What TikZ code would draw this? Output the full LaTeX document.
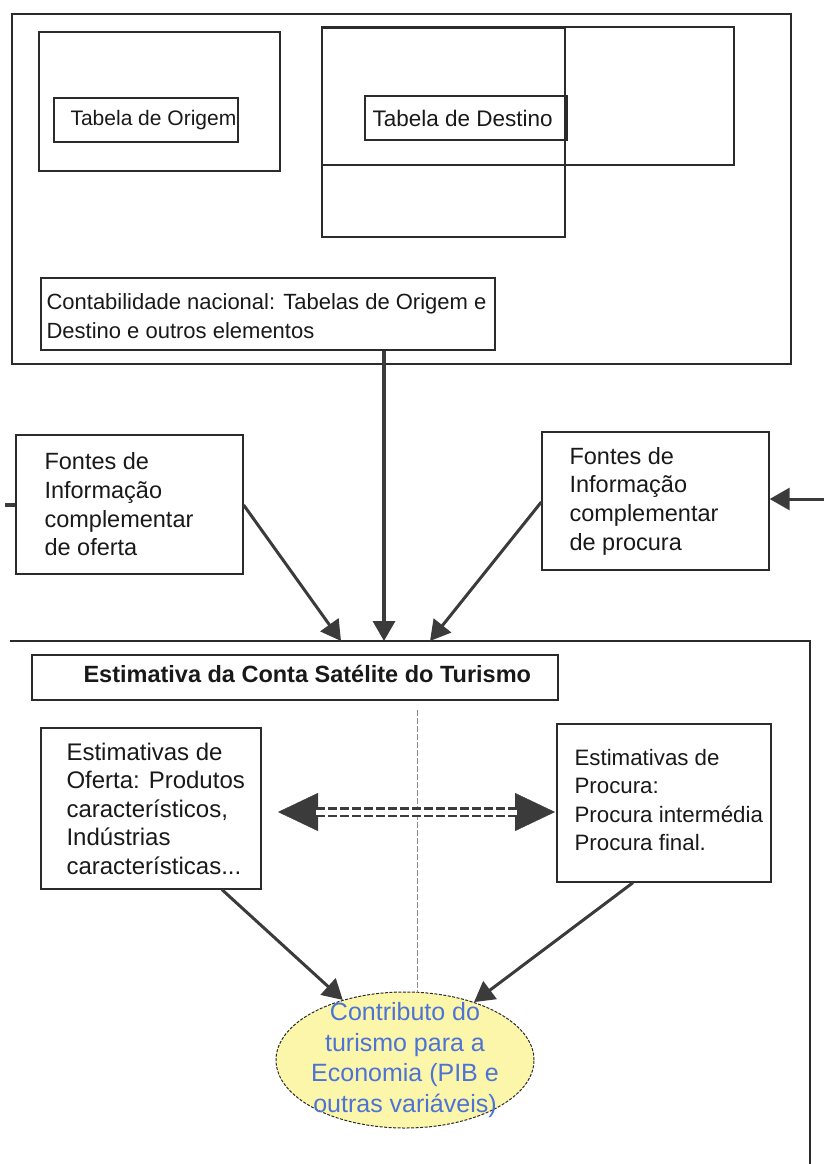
\documentclass[tikz,border=0pt]{standalone}
\usepackage{fontspec}
\setmainfont{Liberation Sans}
\usetikzlibrary{arrows.meta,shapes.geometric}
\definecolor{boxcol}{HTML}{2B2B2B}
\definecolor{arrcol}{HTML}{3B3B3B}
\definecolor{ellfill}{HTML}{FBF6AA}
\definecolor{elltext}{HTML}{4D73D6}
\definecolor{dashgrey}{HTML}{8C8C8C}
\newcommand{\szTab}{\fontsize{21}{28}\selectfont}
\newcommand{\szTabD}{\fontsize{22.5}{28}\selectfont}
\newcommand{\szCon}{\fontsize{22}{28.3}\selectfont}
\newcommand{\szFon}{\fontsize{23.5}{28.7}\selectfont}
\newcommand{\szTit}{\fontsize{23.5}{28}\selectfont\bfseries}
\newcommand{\szEsO}{\fontsize{24}{28.5}\selectfont}
\newcommand{\szEsP}{\fontsize{22.3}{28.3}\selectfont}
\newcommand{\szEll}{\fontsize{25}{30.5}\selectfont}
\begin{document}
\begin{tikzpicture}[x=1pt,y=-1pt,
  box/.style={draw=boxcol, line width=1.3pt, inner sep=0pt, rectangle},
  txt/.style={inner sep=0pt, align=left, anchor=west, text=black!90},
  arr/.style={draw=arrcol, line width=3pt, -{Triangle[length=20pt,width=22pt]}},
  frameline/.style={draw=boxcol, line width=1.3pt},
  markline/.style={draw=arrcol, line width=4pt},
  vdash/.style={draw=dashgrey, line width=0.8pt, dash pattern=on 6pt off 2pt},
  dbltips/.style={draw=white, line width=0.4pt,
     {Triangle[length=40pt,width=38pt,color=arrcol]}-{Triangle[length=40pt,width=38pt,color=arrcol]}},
  dblline/.style={draw=arrcol, line width=2.5pt, double=white, double distance=5pt, dash pattern=on 9pt off 3pt},
  ellstyle/.style={ellipse, draw=boxcol, line width=1pt, dash pattern=on 3pt off 1.5pt, fill=ellfill, inner sep=0pt}
]
\useasboundingbox (0,0) rectangle (824,1164);

% top frame
\node[box, minimum width=779pt, minimum height=350pt] (topframe) at (401.5,189) {};
\node[box, minimum width=241pt, minimum height=139pt] (origouter) at (159.5,101.5) {};
\node[box, minimum width=184pt, minimum height=44pt] (origin) at (146,120) {};
\node[txt, font=\szTab] (origin-t) at ([xshift=17pt]origin.west) {Tabela de Origem};
\node[box, minimum width=412pt, minimum height=138pt] (desta) at (528,96) {};
\node[box, minimum width=243pt, minimum height=209pt] (destb) at (443.5,132.5) {};
\node[box, minimum width=202pt, minimum height=44pt] (destino) at (466,118) {};
\node[txt, font=\szTabD] (destino-t) at ([xshift=8pt]destino.west) {Tabela de Destino};
\node[box, minimum width=454pt, minimum height=72pt] (contab) at (268,314) {};
\node[txt, font=\szCon] (contab-t) at ([xshift=6pt,yshift=-2pt]contab.west)
  {Contabilidade nacional: Tabelas de Origem e\\Destino e outros elementos};

% sources
\node[box, minimum width=227pt, minimum height=139pt] (fonteso) at (129.5,504.5) {};
\node[txt, font=\szFon] (fonteso-t) at ([xshift=29pt]fonteso.west)
  {Fontes de\\Informação\\complementar\\de oferta};
\node[box, minimum width=227pt, minimum height=138pt] (fontesp) at (655.5,501) {};
\node[txt, font=\szFon] (fontesp-t) at ([xshift=28pt]fontesp.west)
  {Fontes de\\Informação\\complementar\\de procura};

% lower frame
\coordinate (lf1) at (10,641);
\coordinate (lf2) at (810,641);
\coordinate (lf3) at (810,1164);
\draw[frameline] (lf1) -- (lf2) -- (lf3);

\node[box, minimum width=526pt, minimum height=45pt] (title) at (295,677.5) {};
\node[txt, font=\szTit] (title-t) at ([xshift=52pt,yshift=4pt]title.west)
  {Estimativa da Conta Satélite do Turismo};

\node[box, minimum width=220pt, minimum height=161pt] (esto) at (151,808.5) {};
\node[txt, font=\szEsO] (esto-t) at ([xshift=26pt]esto.west)
  {Estimativas de\\Oferta: Produtos\\característicos,\\Indústrias\\características...};
\node[box, minimum width=214pt, minimum height=158pt] (estp) at (664,803) {};
\node[txt, font=\szEsP] (estp-t) at ([xshift=18pt,yshift=3pt]estp.west)
  {Estimativas de\\Procura:\\Procura intermédia\\Procura final.};

\node[ellstyle, minimum width=258pt, minimum height=136pt] (ell) at (405,1060) {};
\node[inner sep=0pt, align=center, font=\szEll, text=elltext] (ell-t) at (ell.center)
  {Contributo do\\turismo para a\\Economia (PIB e\\outras variáveis)};

% dashed divider
\coordinate (vl1) at (417,710);
\coordinate (vl2) at (417,992.5);
\draw[vdash] (vl1) -- (vl2);

% connectors
\coordinate (t1) at (341,641);
\coordinate (t2) at (384,641);
\coordinate (t3) at (430,641);
\coordinate (fo) at (0,505);
\coordinate (fp) at (0,502);
\draw[arr, line width=3.6pt] (contab.south -| t2) -- (t2);
\draw[arr] (fonteso.east |- fo) -- (t1);
\draw[arr] (fontesp.west |- fp) -- (t3);
\coordinate (pr) at (824,499);
\draw[arr] (pr) -- (fontesp.east |- pr);
\coordinate (mk) at (5,505);
\draw[markline] (mk) -- (fonteso.west |- mk);

\coordinate (eo) at (222,0);
\coordinate (ep) at (633,0);
\draw[arr] (esto.south -| eo) -- (ell.136);
\draw[arr] (estp.south -| ep) -- (ell.40);

% double arrow
\coordinate (dl) at (278,812);
\coordinate (dr) at (555,812);
\draw[dbltips] (dl) -- (dr);
\draw[dblline] ([xshift=38pt]dl) -- ([xshift=-38pt]dr);
\end{tikzpicture}
\end{document}
